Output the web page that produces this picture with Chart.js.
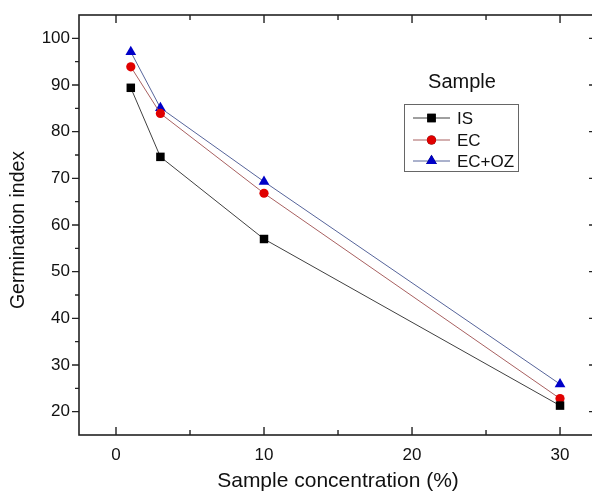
<!DOCTYPE html>
<html>
<head>
<meta charset="utf-8">
<script src="https://cdn.jsdelivr.net/npm/chart.js@4/dist/chart.umd.min.js"></script>
<style>
  html, body { margin: 0; padding: 0; background: #fff; overflow: hidden; }
  canvas { display: block; }
</style>
</head>
<body>
<canvas id="chart" width="592" height="493"></canvas>
<script>
// sample concentration (%)
const concentrations = [1, 3, 10, 30];
// germination index per sample
const isValues = [89.4, 74.6, 57.0, 21.3];
const ecValues = [93.9, 83.9, 66.8, 22.8];
const ecOzValues = [97.1, 85.1, 69.3, 25.9];

const xTicks = [0, 10, 20, 30];
const yTicks = [20, 30, 40, 50, 60, 70, 80, 90, 100];

const seriesNames = ["IS", "EC", "EC+OZ"];
const legendTitle = "Sample";
const xTitle = "Sample concentration (%)";
const yTitle = "Germination index";

const FONT = "'Liberation Sans', Arial, sans-serif";

function toPoints(values) {
  return concentrations.map((c, i) => ({ x: c, y: values[i] }));
}

// keep tick labels from shrinking the plot area
function fixBox(s, size) {
  if (s.isHorizontal()) s.height = size; else s.width = size;
  s.paddingLeft = s.paddingRight = s.paddingTop = s.paddingBottom = 0;
}

// axes frame, tick marks, titles and the boxed legend
const framePlugin = {
  id: "frame",
  afterDraw(chart) {
    const ctx = chart.ctx;
    const a = chart.chartArea;
    const xs = chart.scales.x;
    const ys = chart.scales.y;
    // the right axis of the original sits just past the picture's edge
    const rightAxis = xs.getPixelForValue(32.5);
    ctx.save();
    ctx.strokeStyle = "#222";
    ctx.lineWidth = 1.6;
    ctx.strokeRect(a.left, a.top, rightAxis - a.left, a.bottom - a.top);

    ctx.lineWidth = 1.4;
    ctx.beginPath();
    xTicks.forEach(v => {
      const px = xs.getPixelForValue(v);
      ctx.moveTo(px, a.bottom); ctx.lineTo(px, a.bottom - 8);
      ctx.moveTo(px, a.top); ctx.lineTo(px, a.top + 8);
      const m = xs.getPixelForValue(v + 5);
      if (m < a.right) {
        ctx.moveTo(m, a.bottom); ctx.lineTo(m, a.bottom - 5);
        ctx.moveTo(m, a.top); ctx.lineTo(m, a.top + 5);
      }
    });
    const minors = [15].concat(yTicks.map(v => v + 5));
    yTicks.forEach(v => {
      const py = ys.getPixelForValue(v);
      ctx.moveTo(a.left, py); ctx.lineTo(a.left - 7, py);
      ctx.moveTo(rightAxis, py); ctx.lineTo(rightAxis - 8, py);
    });
    minors.forEach(v => {
      const py = ys.getPixelForValue(v);
      if (py > a.top && py < a.bottom) {
        ctx.moveTo(a.left, py); ctx.lineTo(a.left - 4, py);
        ctx.moveTo(rightAxis, py); ctx.lineTo(rightAxis - 5, py);
      }
    });
    ctx.stroke();

    // axis titles
    ctx.fillStyle = "#111";
    ctx.textAlign = "center";
    ctx.textBaseline = "middle";
    ctx.font = "21px " + FONT;
    ctx.fillText(xTitle, 338, 481);
    ctx.save();
    ctx.translate(19, 230);
    ctx.rotate(-Math.PI / 2);
    ctx.font = "19.5px " + FONT;
    ctx.fillText(yTitle, 0, 0);
    ctx.restore();

    // legend
    ctx.font = "20px " + FONT;
    ctx.fillText(legendTitle, 462, 82);
    ctx.strokeStyle = "#666";
    ctx.lineWidth = 1;
    ctx.strokeRect(404.5, 104.5, 114, 67);
    ctx.font = "17px " + FONT;
    ctx.textAlign = "left";
    const rows = [118, 140, 161];
    chart.data.datasets.forEach((ds, i) => {
      const y = rows[i];
      ctx.strokeStyle = ds.borderColor;
      ctx.lineWidth = 1;
      ctx.beginPath();
      ctx.moveTo(413, y); ctx.lineTo(450, y);
      ctx.stroke();
      Chart.helpers.drawPoint(ctx, {
        pointStyle: ds.pointStyle,
        radius: ds.pointRadius,
        rotation: 0,
        borderWidth: 0
      }, 431.5, y);
      ctx.fillStyle = ds.pointBackgroundColor;
      ctx.fill();
      ctx.fillStyle = "#111";
      ctx.fillText(ds.label, 457, y + 1);
    });
    ctx.restore();
  }
};

new Chart(document.getElementById("chart"), {
  type: "scatter",
  data: {
    datasets: [
      {
        label: seriesNames[0],
        data: toPoints(isValues),
        showLine: true,
        borderColor: "#404040",
        borderWidth: 1,
        pointStyle: "rect",
        pointRadius: 6,
        pointBackgroundColor: "#000",
        pointBorderWidth: 0
      },
      {
        label: seriesNames[1],
        data: toPoints(ecValues),
        showLine: true,
        borderColor: "#a86060",
        borderWidth: 1,
        pointStyle: "circle",
        pointRadius: 4.6,
        pointBackgroundColor: "#e00000",
        pointBorderWidth: 0
      },
      {
        label: seriesNames[2],
        data: toPoints(ecOzValues),
        showLine: true,
        borderColor: "#56649a",
        borderWidth: 1,
        pointStyle: "triangle",
        pointRadius: 6.2,
        pointBackgroundColor: "#0000c8",
        pointBorderWidth: 0
      }
    ]
  },
  options: {
    responsive: false,
    animation: false,
    layout: { autoPadding: false, padding: { top: 15, right: 0, bottom: 0, left: 0 } },
    plugins: { legend: { display: false }, tooltip: { enabled: false } },
    scales: {
      x: {
        type: "linear",
        min: -2.5,
        max: 32.16,
        grid: { display: false, drawTicks: false },
        border: { display: false },
        afterBuildTicks: s => { s.ticks = xTicks.map(v => ({ value: v })); },
        afterFit: s => fixBox(s, 58),
        ticks: { color: "#111", padding: 10, font: { family: FONT, size: 17 } }
      },
      y: {
        type: "linear",
        min: 15,
        max: 105,
        grid: { display: false, drawTicks: false },
        border: { display: false },
        afterBuildTicks: s => { s.ticks = yTicks.map(v => ({ value: v })); },
        afterFit: s => fixBox(s, 79),
        ticks: { color: "#111", padding: 9, font: { family: FONT, size: 17 } }
      }
    }
  },
  plugins: [framePlugin]
});
</script>
</body>
</html>
